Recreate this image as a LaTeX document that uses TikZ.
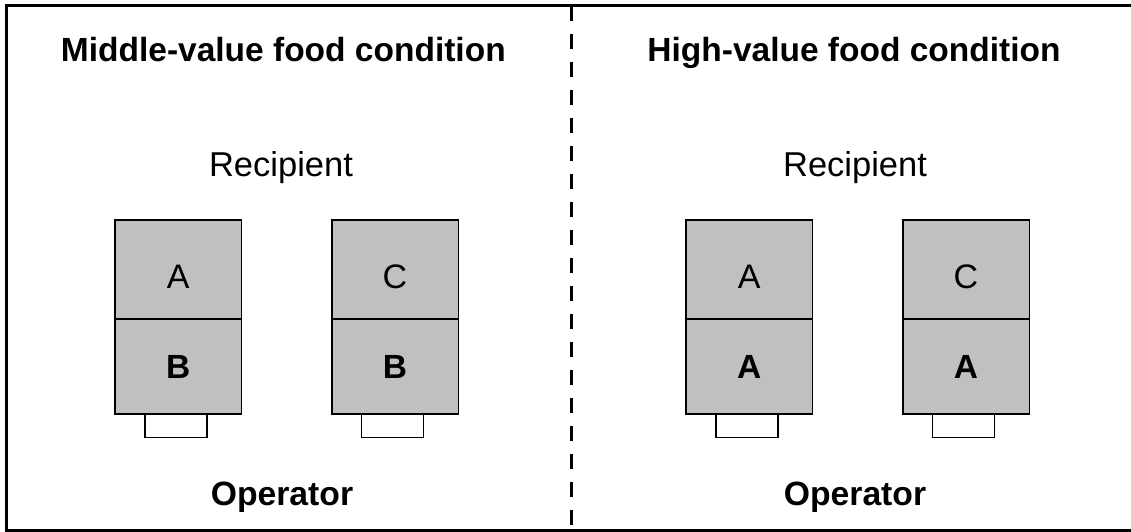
\documentclass[tikz,border=0pt]{standalone}
\usepackage{fontspec}
\setmainfont{Liberation Sans}
\definecolor{boxgray}{RGB}{192,192,192}
\begin{document}
\begin{tikzpicture}[x=1pt,y=-1pt,
  frameline/.style={line width=3pt},
  divider/.style={line width=3pt, dash pattern=on 15pt off 13pt},
  cell/.style={draw, line width=1.5pt, fill=boxgray, minimum width=126.5pt, inner sep=0pt},
  topcell/.style={cell, minimum height=99pt},
  botcell/.style={cell, minimum height=95pt},
  tab/.style={draw, line width=1.5pt, fill=white, minimum width=62pt, minimum height=23.5pt, inner sep=0pt},
  heading/.style={font=\bfseries\fontsize{33.5}{40}\selectfont, anchor=base, inner sep=0pt},
  caption/.style={font=\fontsize{34.5}{40}\selectfont, anchor=base, inner sep=0pt},
  boldcaption/.style={caption, font=\bfseries\fontsize{33.7}{40}\selectfont},
  letter/.style={font=\fontsize{34}{40}\selectfont, anchor=base, inner sep=0pt},
  boldletter/.style={letter, font=\bfseries\fontsize{33.5}{40}\selectfont}
]
\useasboundingbox (0,0) rectangle (1131,532);
\fill[white] (0,0) rectangle (1131,532);

% outer frame (open on the right)
\coordinate (tl) at (6,6);
\coordinate (tr) at (1135,6);
\coordinate (bl) at (6,530.5);
\coordinate (br) at (1135,530.5);
\draw[frameline] (tr) -- (tl) -- (bl) -- (br);

% dashed divider between the two conditions
\coordinate (dtop) at (571.5,6);
\coordinate (dbot) at (571.5,530.5);
\draw[divider] (dtop) -- (dbot);

% headings and labels
\node[heading] (h1) at (283.3,62) {Middle-value food condition};
\node[heading] (h2) at (854,62) {High-value food condition};
\node[caption] (r1) at (281,176) {Recipient};
\node[caption] (r2) at (855,176) {Recipient};
\node[boldcaption] (o1) at (282,505) {Operator};
\node[boldcaption] (o2) at (855,505) {Operator};

% trays: tab, lower cell, upper cell
\foreach \cx/\up/\low/\name in {178.3/A/B/m1, 395/C/B/m2, 749.2/A/A/h1, 966/C/A/h2} {
  \node[tab] (\name tab) at (\cx-2.3,425.8) {};
  \node[botcell] (\name low) at (\cx,366.5) {};
  \node[topcell] (\name up) at (\cx,269.5) {};
  \node[letter] (\name upl) at (\cx,288) {\up};
  \node[boldletter] (\name lowl) at (\cx,378) {\low};
}
\end{tikzpicture}
\end{document}
